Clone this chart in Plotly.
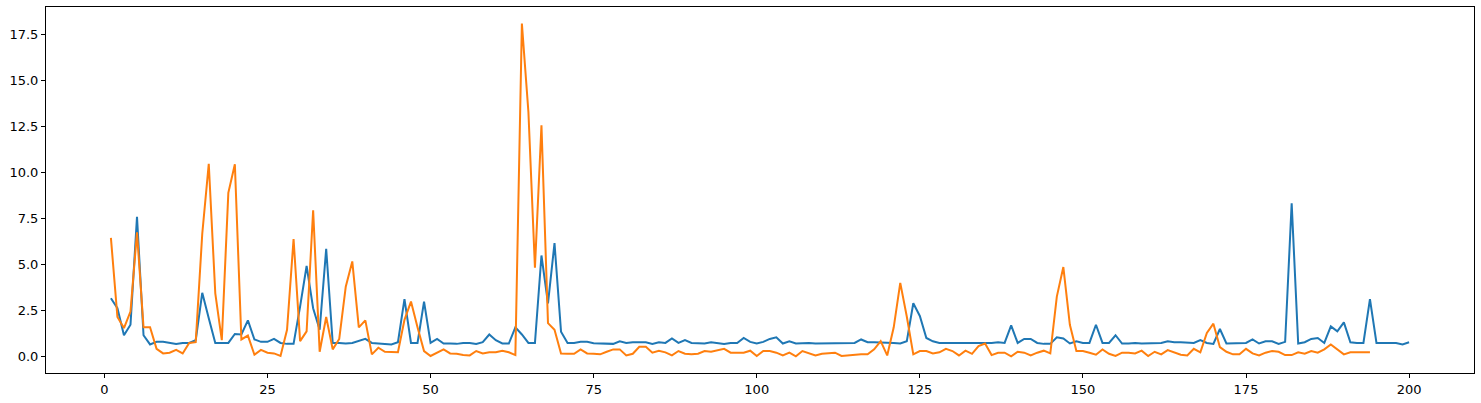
import plotly.graph_objects as go

x_blue = list(range(1, 201))
blue = [3.16, 2.62, 1.15, 1.72, 7.59, 1.15, 0.65, 0.79, 0.79, 0.73,
        0.68, 0.73, 0.73, 0.88, 3.46, 2.08, 0.73, 0.73, 0.73, 1.22,
        1.19, 1.96, 0.92, 0.79, 0.79, 0.95, 0.73, 0.68, 0.68, 2.71,
        4.92, 2.62, 1.45, 5.85, 0.73, 0.73, 0.70, 0.73, 0.86, 0.95,
        0.73, 0.70, 0.70, 0.65, 0.77, 3.12, 0.73, 0.73, 2.98, 0.73,
        0.95, 0.70, 0.70, 0.68, 0.73, 0.73, 0.68, 0.77, 1.19, 0.88,
        0.70, 0.70, 1.58, 1.19, 0.73, 0.73, 5.49, 2.89, 6.16, 1.34,
        0.73, 0.73, 0.79, 0.79, 0.72, 0.70, 0.70, 0.68, 0.82, 0.73,
        0.77, 0.77, 0.77, 0.68, 0.77, 0.73, 0.97, 0.73, 0.88, 0.73,
        0.73, 0.70, 0.77, 0.73, 0.68, 0.73, 0.73, 1.00, 0.79, 0.70,
        0.79, 0.95, 1.04, 0.70, 0.82, 0.70, 0.73, 0.73, 0.70, 0.70,
        0.70, 0.73, 0.73, 0.73, 0.73, 0.92, 0.77, 0.77, 0.77, 0.73,
        0.73, 0.70, 0.82, 2.89, 2.20, 1.00, 0.82, 0.73, 0.73, 0.70,
        0.70, 0.70, 0.70, 0.73, 0.73, 0.73, 0.77, 0.73, 1.69, 0.73,
        0.95, 0.95, 0.73, 0.68, 0.68, 1.04, 0.97, 0.70, 0.82, 0.73,
        0.73, 1.72, 0.73, 0.73, 1.15, 0.70, 0.70, 0.73, 0.70, 0.70,
        0.73, 0.73, 0.82, 0.77, 0.77, 0.73, 0.73, 0.88, 0.73, 0.68,
        1.49, 0.70, 0.70, 0.70, 0.73, 0.92, 0.70, 0.82, 0.82, 0.68,
        0.79, 8.33, 0.70, 0.77, 0.95, 1.00, 0.73, 1.63, 1.36, 1.85,
        0.77, 0.73, 0.73, 3.12, 0.73, 0.73, 0.73, 0.73, 0.65, 0.77]

x_orange = list(range(1, 195))
orange = [6.45, 2.14, 1.54, 2.44, 6.75, 1.58, 1.58, 0.41, 0.16, 0.20,
          0.35, 0.16, 0.73, 0.77, 6.66, 10.48, 3.43, 0.88, 8.90, 10.46,
          0.92, 1.13, 0.09, 0.35, 0.20, 0.16, 0.02, 1.45, 6.39, 0.83,
          1.36, 7.95, 0.25, 2.14, 0.38, 0.95, 3.79, 5.17, 1.58, 1.96,
          0.11, 0.47, 0.25, 0.25, 0.22, 1.99, 2.98, 1.58, 0.29, 0.02,
          0.22, 0.38, 0.16, 0.14, 0.07, 0.05, 0.29, 0.16, 0.22, 0.22,
          0.31, 0.22, 0.07, 18.11, 13.30, 4.83, 12.58, 1.81, 1.45, 0.16,
          0.14, 0.14, 0.38, 0.16, 0.14, 0.11, 0.25, 0.38, 0.38, 0.05,
          0.14, 0.52, 0.52, 0.20, 0.31, 0.22, 0.05, 0.29, 0.14, 0.11,
          0.14, 0.29, 0.25, 0.34, 0.41, 0.20, 0.20, 0.20, 0.31, 0.02,
          0.29, 0.29, 0.20, 0.05, 0.20, 0.00, 0.29, 0.16, 0.05, 0.14,
          0.16, 0.20, 0.02, 0.05, 0.11, 0.11, 0.11, 0.38, 0.83, 0.05,
          1.58, 4.00, 2.17, 0.11, 0.29, 0.29, 0.16, 0.22, 0.41, 0.29,
          0.05, 0.31, 0.14, 0.56, 0.70, 0.07, 0.20, 0.20, 0.00, 0.25,
          0.20, 0.05, 0.20, 0.31, 0.16, 3.25, 4.86, 1.72, 0.29, 0.29,
          0.20, 0.09, 0.38, 0.14, 0.02, 0.20, 0.20, 0.16, 0.31, 0.02,
          0.25, 0.11, 0.34, 0.20, 0.09, 0.05, 0.41, 0.22, 1.27, 1.78,
          0.50, 0.25, 0.11, 0.11, 0.41, 0.16, 0.05, 0.20, 0.29, 0.25,
          0.07, 0.07, 0.22, 0.14, 0.29, 0.20, 0.38, 0.65, 0.38, 0.11,
          0.22, 0.22, 0.22, 0.22]

x_ticks = [0, 25, 50, 75, 100, 125, 150, 175, 200]
y_ticks = [0.0, 2.5, 5.0, 7.5, 10.0, 12.5, 15.0, 17.5]

all_y = blue + orange
ymin, ymax = min(all_y), max(all_y)
ypad = 0.05 * (ymax - ymin)
xpad = 0.05 * (200 - 1)

fig = go.Figure()
fig.add_trace(go.Scatter(x=x_blue, y=blue, mode="lines",
                         line=dict(color="#1f77b4", width=2)))
fig.add_trace(go.Scatter(x=x_orange, y=orange, mode="lines",
                         line=dict(color="#ff7f0e", width=2)))

axis_common = dict(showgrid=False, zeroline=False, showline=True, linecolor="black",
                   linewidth=1, mirror=True, ticks="outside", ticklen=4, tickwidth=1,
                   tickcolor="black", tickfont=dict(family="DejaVu Sans", size=13, color="black"))

fig.update_layout(
    width=1481, height=403,
    margin=dict(l=46, r=6, t=6, b=29),
    plot_bgcolor="white", paper_bgcolor="white",
    showlegend=False,
    xaxis=dict(range=[1 - xpad, 200 + xpad], tickvals=x_ticks,
               ticktext=[str(v) for v in x_ticks], **axis_common),
    yaxis=dict(range=[ymin - ypad, ymax + ypad], tickvals=y_ticks,
               ticktext=[f"{v:.1f}" for v in y_ticks], **axis_common),
)

fig.write_html("out.html", config={"displayModeBar": False},
               post_script="document.body.style.margin='0';document.body.style.overflow='hidden';")
